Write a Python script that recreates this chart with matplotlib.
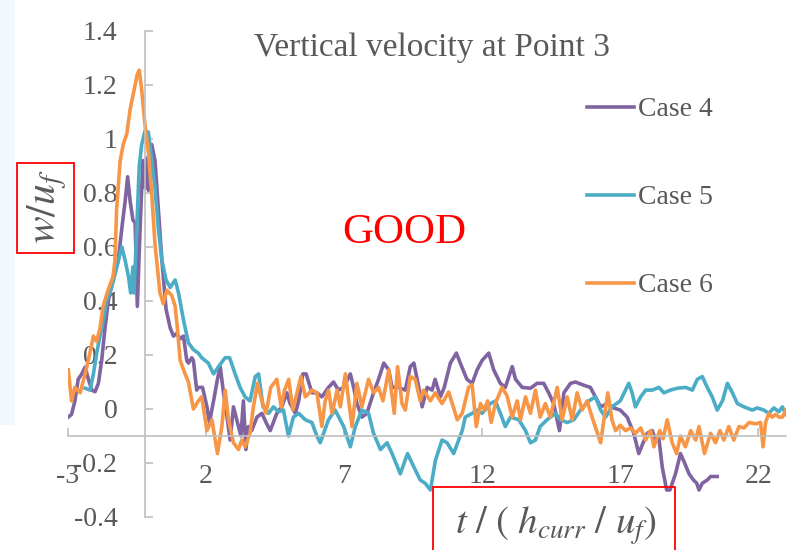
import matplotlib
matplotlib.use("Agg")
import matplotlib.pyplot as plt
from matplotlib.patches import Rectangle

# time series of vertical velocity w/u_f at point 3, (t, w) pairs
case4 = [
    (-2.98, -0.03), (-2.86, -0.02), (-2.74, 0.03), (-2.62, 0.11), (-2.49, 0.13),
    (-2.37, 0.155), (-2.25, 0.11), (-2.13, 0.07), (-2.01, 0.064), (-1.89, 0.095),
    (-1.77, 0.18), (-1.65, 0.30), (-1.53, 0.40), (-1.35, 0.49), (-1.17, 0.55),
    (-1.04, 0.67), (-0.92, 0.77), (-0.83, 0.86), (-0.74, 0.77), (-0.64, 0.70),
    (-0.56, 0.69), (-0.48, 0.38), (-0.38, 0.67), (-0.28, 0.92), (-0.20, 0.82),
    (-0.12, 0.93), (-0.08, 0.81), (0.04, 0.98), (0.16, 0.92), (0.28, 0.74),
    (0.41, 0.55), (0.56, 0.37), (0.71, 0.30), (0.83, 0.27), (0.95, 0.28),
    (1.07, 0.26), (1.19, 0.27), (1.31, 0.18), (1.37, 0.17), (1.49, 0.19),
    (1.55, 0.18), (1.67, 0.07), (1.73, 0.08), (1.88, 0.08), (2.04, 0.008),
    (2.13, -0.05), (2.28, 0.03), (2.42, 0.11), (2.52, 0.157), (2.64, 0.06),
    (2.78, -0.04), (2.88, -0.115), (3.00, 0.008), (3.12, -0.04), (3.27, -0.10),
    (3.36, 0.03), (3.45, -0.15), (3.54, -0.065), (3.66, -0.08), (3.85, -0.03),
    (4.03, -0.016), (4.18, -0.05), (4.33, -0.08), (4.57, -0.016), (4.75, 0.008),
    (4.93, 0.06), (5.05, 0.02), (5.24, -0.016), (5.36, 0.03), (5.51, 0.13),
    (5.63, 0.13), (5.84, 0.06), (6.02, 0.06), (6.20, 0.045), (6.44, 0.08),
    (6.62, 0.10), (6.80, 0.07), (6.99, 0.08), (7.23, 0.13), (7.35, 0.08),
    (7.47, 0.02), (7.65, -0.03), (7.83, -0.016), (8.07, 0.06), (8.25, 0.11),
    (8.44, 0.17), (8.62, 0.145), (8.74, 0.08), (8.98, 0.08), (9.22, 0.07),
    (9.40, 0.157), (9.53, 0.17), (9.71, 0.08), (9.83, 0.008), (10.01, 0.08),
    (10.19, 0.07), (10.30, 0.11), (10.49, 0.045), (10.63, 0.08), (10.85, 0.17),
    (11.07, 0.207), (11.21, 0.17), (11.45, 0.11), (11.64, 0.095), (11.82, 0.145),
    (12.00, 0.18), (12.24, 0.207), (12.42, 0.145), (12.66, 0.095), (12.84, 0.08),
    (13.09, 0.157), (13.21, 0.11), (13.45, 0.08), (13.75, 0.077), (13.99, 0.095),
    (14.23, 0.095), (14.41, 0.06), (14.59, 0.02), (14.80, -0.08), (14.96, 0.06),
    (15.20, 0.095), (15.38, 0.10), (15.68, 0.088), (15.92, 0.08), (16.10, 0.045),
    (16.29, 0.008), (16.53, 0.02), (16.77, 0.004), (17.00, -0.004), (17.25, -0.03),
    (17.49, -0.09), (17.67, -0.165), (17.83, -0.125), (17.98, -0.09), (18.16, -0.08),
    (18.28, -0.115), (18.40, -0.11), (18.52, -0.215), (18.68, -0.30), (18.80, -0.30),
    (19.00, -0.24), (19.18, -0.165), (19.33, -0.20), (19.49, -0.24), (19.65, -0.263),
    (19.77, -0.275), (19.85, -0.30), (19.97, -0.275), (20.15, -0.263), (20.27, -0.25),
    (20.51, -0.25),
]

case5 = [
    (-2.37, 0.077), (-2.19, 0.07), (-2.07, 0.13), (-1.95, 0.207), (-1.83, 0.27),
    (-1.71, 0.33), (-1.59, 0.40), (-1.41, 0.45), (-1.22, 0.526), (-1.10, 0.578),
    (-1.04, 0.60), (-0.92, 0.55), (-0.80, 0.49), (-0.72, 0.43), (-0.64, 0.526),
    (-0.60, 0.43), (-0.50, 0.67), (-0.41, 0.90), (-0.32, 0.98), (-0.20, 1.03),
    (-0.08, 1.025), (0.04, 0.92), (0.16, 0.82), (0.28, 0.67), (0.41, 0.55),
    (0.56, 0.478), (0.71, 0.45), (0.89, 0.478), (1.01, 0.43), (1.19, 0.33),
    (1.37, 0.245), (1.55, 0.22), (1.73, 0.207), (1.85, 0.19), (2.09, 0.17),
    (2.28, 0.13), (2.46, 0.157), (2.70, 0.19), (2.86, 0.19), (3.06, 0.13),
    (3.24, 0.08), (3.42, 0.045), (3.60, 0.03), (3.79, 0.12), (3.91, 0.13),
    (4.07, 0.008), (4.27, -0.016), (4.45, 0.008), (4.63, -0.01), (4.81, -0.004),
    (4.99, -0.10), (5.17, -0.03), (5.36, -0.016), (5.60, -0.04), (5.84, -0.05),
    (6.02, -0.10), (6.14, -0.125), (6.44, -0.04), (6.68, -0.004), (6.99, -0.065),
    (7.23, -0.14), (7.41, -0.065), (7.65, -0.004), (7.89, -0.016), (8.07, -0.09),
    (8.32, -0.15), (8.56, -0.125), (8.74, -0.165), (9.04, -0.24), (9.30, -0.165),
    (9.53, -0.215), (9.76, -0.263), (9.94, -0.275), (10.13, -0.30), (10.31, -0.19),
    (10.55, -0.115), (10.73, -0.125), (10.97, -0.165), (11.28, -0.08), (11.39, -0.03),
    (11.64, -0.016), (11.82, -0.004), (12.00, -0.016), (12.30, 0.02), (12.48, 0.03),
    (12.66, -0.016), (12.84, -0.065), (13.03, -0.03), (13.33, -0.04), (13.57, -0.08),
    (13.75, -0.125), (13.93, -0.115), (14.10, -0.065), (14.35, -0.04), (14.65, -0.016),
    (14.83, -0.04), (15.08, -0.05), (15.32, -0.04), (15.56, -0.004), (15.86, 0.03),
    (16.10, 0.045), (16.29, -0.004), (16.47, -0.03), (16.70, 0.008), (17.00, 0.03),
    (17.19, 0.07), (17.31, 0.095), (17.43, 0.06), (17.55, 0.008), (17.74, 0.045),
    (17.92, 0.07), (18.16, 0.07), (18.40, 0.08), (18.58, 0.06), (18.82, 0.07),
    (19.07, 0.077), (19.37, 0.08), (19.61, 0.07), (19.79, 0.11), (19.97, 0.12),
    (20.15, 0.08), (20.33, 0.045), (20.51, -0.004), (20.70, 0.03), (20.88, 0.095),
    (21.06, 0.06), (21.24, 0.02), (21.48, 0.008), (21.78, -0.004), (21.96, 0.004),
    (22.20, -0.004), (22.38, -0.016), (22.56, 0.004), (22.74, -0.01), (22.87, 0.008),
    (23.00, -0.02),
]

case6 = [
    (-2.98, 0.145), (-2.86, 0.03), (-2.74, 0.08), (-2.55, 0.06), (-2.37, 0.13),
    (-2.19, 0.21), (-2.07, 0.27), (-1.95, 0.25), (-1.83, 0.30), (-1.72, 0.38),
    (-1.54, 0.44), (-1.36, 0.49), (-1.29, 0.55), (-1.23, 0.74), (-1.10, 0.92),
    (-0.99, 0.98), (-0.86, 1.02), (-0.74, 1.11), (-0.62, 1.17), (-0.48, 1.24),
    (-0.41, 1.255), (-0.32, 1.18), (-0.20, 1.05), (-0.08, 0.95), (0.04, 0.80),
    (0.16, 0.61), (0.34, 0.43), (0.46, 0.39), (0.59, 0.44), (0.77, 0.42),
    (0.89, 0.38), (0.97, 0.30), (1.07, 0.18), (1.25, 0.13), (1.37, 0.10),
    (1.55, 0.00), (1.73, 0.03), (1.85, 0.045), (2.04, -0.08), (2.22, -0.04),
    (2.42, -0.165), (2.58, -0.065), (2.70, 0.07), (2.82, -0.04), (3.00, -0.125),
    (3.18, -0.15), (3.30, -0.115), (3.42, -0.14), (3.60, -0.09), (3.72, 0.007),
    (3.87, 0.095), (4.03, 0.03), (4.18, -0.015), (4.35, 0.08), (4.57, 0.11),
    (4.73, 0.007), (4.85, 0.07), (5.00, 0.11), (5.15, -0.004), (5.30, 0.06),
    (5.44, 0.12), (5.60, 0.045), (5.84, 0.07), (6.02, 0.06), (6.20, -0.065),
    (6.32, 0.03), (6.44, 0.07), (6.57, -0.016), (6.75, 0.07), (6.87, 0.008),
    (7.05, 0.13), (7.29, -0.065), (7.47, 0.095), (7.65, 0.008), (7.89, 0.11),
    (8.07, 0.06), (8.25, 0.08), (8.41, 0.03), (8.62, 0.145), (8.82, -0.016),
    (8.94, 0.157), (9.10, 0.02), (9.22, -0.004), (9.40, 0.12), (9.58, 0.11),
    (9.76, 0.03), (9.88, 0.07), (10.13, 0.03), (10.30, 0.06), (10.55, 0.02),
    (10.79, 0.063), (11.10, -0.04), (11.28, -0.016), (11.51, 0.08), (11.64, 0.09),
    (11.79, -0.065), (11.94, 0.02), (12.08, -0.004), (12.20, 0.03), (12.33, -0.05),
    (12.48, 0.02), (12.72, 0.08), (12.90, 0.05), (13.09, -0.03), (13.27, 0.03),
    (13.39, -0.04), (13.57, 0.045), (13.75, -0.016), (13.93, 0.07), (14.10, -0.03),
    (14.29, 0.02), (14.47, -0.03), (14.72, 0.08), (14.90, -0.04), (15.08, 0.045),
    (15.26, -0.04), (15.44, 0.06), (15.62, -0.004), (15.80, 0.03), (15.98, -0.03),
    (16.29, -0.125), (16.55, 0.06), (16.70, -0.04), (16.83, -0.08), (17.00, -0.06),
    (17.19, -0.08), (17.37, -0.07), (17.55, -0.09), (17.74, -0.07), (17.92, -0.115),
    (18.10, -0.08), (18.22, -0.14), (18.43, -0.08), (18.55, -0.11), (18.70, -0.04),
    (18.88, -0.125), (19.04, -0.165), (19.18, -0.10), (19.36, -0.14), (19.55, -0.08),
    (19.73, -0.115), (19.85, -0.065), (20.05, -0.165), (20.27, -0.09), (20.45, -0.125),
    (20.61, -0.08), (20.75, -0.115), (20.93, -0.065), (21.11, -0.115), (21.30, -0.065),
    (21.48, -0.07), (21.66, -0.05), (21.90, -0.055), (22.08, -0.05), (22.17, -0.14),
    (22.26, -0.05), (22.38, -0.016), (22.50, -0.03), (22.63, -0.02), (22.75, -0.03),
    (22.87, -0.03), (22.99, -0.004),
]

series_labels = ["Case 4", "Case 5", "Case 6"]
series_colors = ["#8064A2", "#4BACC6", "#F79646"]

x_ticks = [-3, 2, 7, 12, 17, 22]
y_ticks = [-0.4, -0.2, 0, 0.2, 0.4, 0.6, 0.8, 1.0, 1.2, 1.4]
y_tick_labels = ["-0.4", "-0.2", "0", "0.2", "0.4", "0.6", "0.8", "1", "1.2", "1.4"]

plt.rcParams["font.family"] = ["Liberation Serif", "DejaVu Serif"]
plt.rcParams["mathtext.fontset"] = "stix"

W, H = 794, 550
fig = plt.figure(figsize=(W / 100, H / 100), dpi=100)
fig.patch.set_facecolor("white")

# faint panel edge on the left
fig.patches.append(Rectangle((0, 1 - 425 / H), 15 / W, 425 / H, transform=fig.transFigure,
                             facecolor="#f3f8fd", edgecolor="none", zorder=0))

ax = fig.add_axes([67.7 / W, 1 - 517 / H, (786 - 67.7) / W, (517 - 31) / H])
ax.set_facecolor("none")

for data, label, color in zip([case4, case5, case6], series_labels, series_colors):
    t = [p[0] for p in data]
    w = [p[1] for p in data]
    ax.plot(t, w, color=color, lw=2.6, label=label, solid_joinstyle="round")

ax.set_xlim(-3, 23)
ax.set_ylim(-0.4, 1.4)

grey = "#595959"
axis_grey = "#bfbfbf"
for side in ["top", "right"]:
    ax.spines[side].set_visible(False)
ax.spines["left"].set_position(("data", -0.2))
ax.spines["bottom"].set_position(("data", -0.1))
for side in ["left", "bottom"]:
    ax.spines[side].set_color(axis_grey)
    ax.spines[side].set_linewidth(1.2)

ax.set_xticks(x_ticks)
ax.set_xticklabels([str(v) for v in x_ticks])
ax.set_yticks(y_ticks)
ax.set_yticklabels(y_tick_labels)
ax.tick_params(axis="x", direction="in", length=6, width=1.2, color=axis_grey,
               labelsize=20, labelcolor=grey, pad=20)
ax.tick_params(axis="y", direction="in", length=6, width=1.2, color=axis_grey,
               labelsize=20, labelcolor=grey, pad=20)

leg = ax.legend(loc="upper left", bbox_to_anchor=(587 / W, 1 - 97 / H),
                bbox_transform=fig.transFigure, frameon=False, fontsize=20,
                handlelength=1.7, handletextpad=0.15, labelspacing=2.25,
                borderpad=0, borderaxespad=0)
for txt in leg.get_texts():
    txt.set_color(grey)

fig.text(432 / W, 1 - 48 / H, "Vertical velocity at Point 3", fontsize=24,
         color=grey, ha="center", va="center")
fig.text(404 / W, 1 - 233 / H, "GOOD", fontsize=31, color="red",
         ha="center", va="center")

# axis titles in red frames
fig.text(47 / W, 1 - 207 / H, r"$w/u_f$", fontsize=30, color=grey, rotation=90,
         ha="center", va="center")
fig.patches.append(Rectangle((17 / W, 1 - 253 / H), 57 / W, 90 / H, transform=fig.transFigure,
                             facecolor="none", edgecolor="red", lw=1.3))
fig.text(556 / W, 1 - 526 / H, r"$t\ /\ (\ h_{curr}\ /\ u_f)$", fontsize=28, color=grey,
         ha="center", va="center")
fig.patches.append(Rectangle((433 / W, -0.05), 242 / W, 0.05 + 1 - 487 / H,
                             transform=fig.transFigure, facecolor="none",
                             edgecolor="red", lw=1.3))

fig.savefig("out.png", dpi=100)
